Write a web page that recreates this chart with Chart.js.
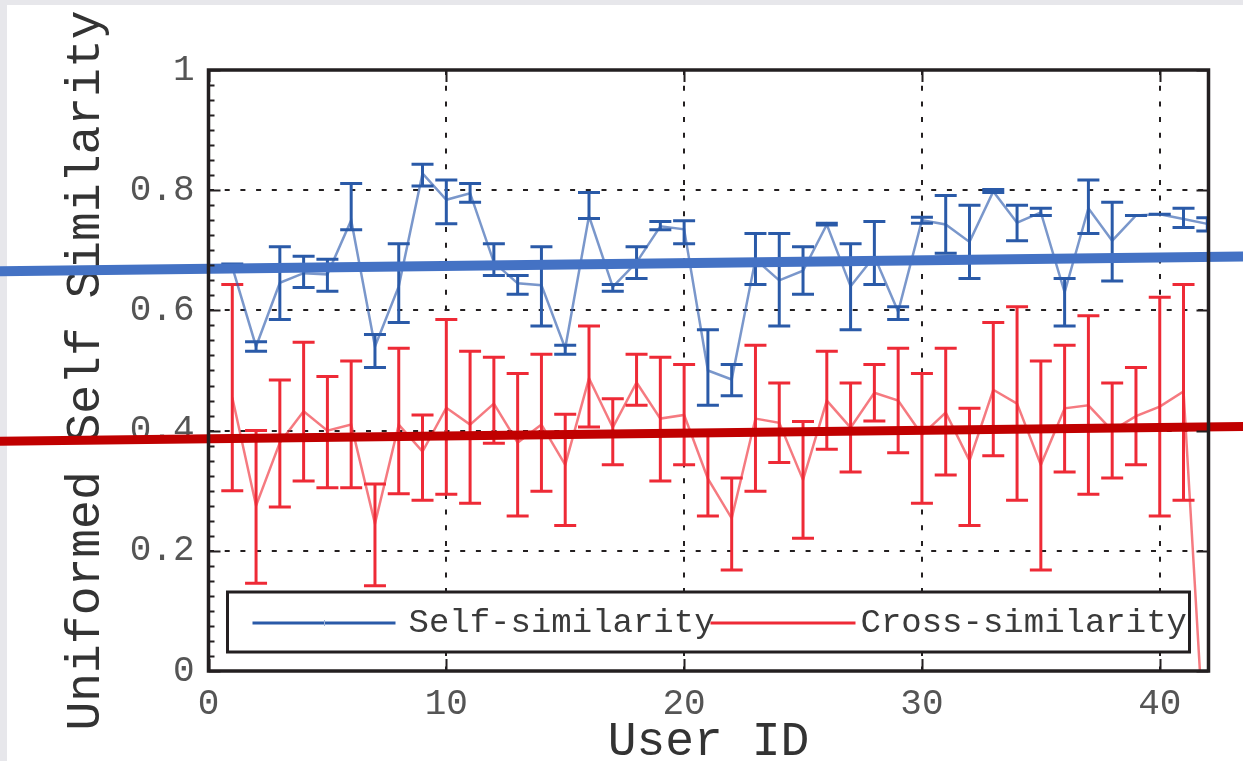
<!DOCTYPE html>
<html>
<head>
<meta charset="utf-8">
<script src="https://cdn.jsdelivr.net/npm/chart.js@4.4.0/dist/chart.umd.min.js"></script>
<style>
  html, body { margin: 0; padding: 0; background: #fff; }
  #wrap { width: 1243px; height: 761px; }
</style>
</head>
<body>
<div id="wrap"><canvas id="chart" width="1243" height="761"></canvas></div>
<script>
const userIds = [1, 2, 3, 4, 5, 6, 7, 8, 9, 10, 11, 12, 13, 14, 15, 16, 17, 18, 19, 20, 21,
  22, 23, 24, 25, 26, 27, 28, 29, 30, 31, 32, 33, 34, 35, 36, 37, 38, 39, 40, 41, 42];

const selfSim = [0.672, 0.54, 0.646, 0.662, 0.66, 0.75, 0.54, 0.64, 0.828, 0.784, 0.795,
  0.68, 0.645, 0.642, 0.537, 0.757, 0.639, 0.68, 0.74, 0.735, 0.50, 0.485, 0.685, 0.65,
  0.666, 0.743, 0.64, 0.69, 0.598, 0.75, 0.743, 0.714, 0.798, 0.746, 0.763, 0.63, 0.77,
  0.716, 0.758, 0.76, 0.752, 0.744];
const selfLo = [0.665, 0.532, 0.585, 0.638, 0.632, 0.734, 0.505, 0.58, 0.807, 0.744, 0.78,
  0.658, 0.627, 0.574, 0.527, 0.753, 0.632, 0.653, 0.734, 0.711, 0.442, 0.458, 0.643, 0.574,
  0.627, 0.742, 0.568, 0.643, 0.585, 0.745, 0.695, 0.653, 0.796, 0.716, 0.758, 0.574, 0.728,
  0.649, 0.758, 0.76, 0.738, 0.732];
const selfHi = [0.677, 0.548, 0.706, 0.69, 0.685, 0.811, 0.56, 0.711, 0.843, 0.817, 0.811,
  0.711, 0.658, 0.706, 0.542, 0.796, 0.643, 0.706, 0.748, 0.749, 0.568, 0.51, 0.728, 0.728,
  0.706, 0.745, 0.711, 0.748, 0.606, 0.755, 0.791, 0.775, 0.801, 0.775, 0.77, 0.653, 0.817,
  0.78, 0.758, 0.76, 0.77, 0.754];

const crossSim = [0.455, 0.275, 0.38, 0.432, 0.40, 0.41, 0.245, 0.41, 0.365, 0.438, 0.41,
  0.445, 0.38, 0.41, 0.343, 0.487, 0.405, 0.48, 0.42, 0.426, 0.32, 0.254, 0.42, 0.413,
  0.318, 0.45, 0.405, 0.463, 0.45, 0.393, 0.43, 0.35, 0.468, 0.445, 0.343, 0.437, 0.442,
  0.40, 0.424, 0.44, 0.465, -0.21];
const crossLo = [0.30, 0.146, 0.273, 0.316, 0.305, 0.305, 0.142, 0.295, 0.284, 0.294, 0.279,
  0.379, 0.258, 0.299, 0.242, 0.406, 0.343, 0.442, 0.316, 0.343, 0.258, 0.168, 0.299, 0.347,
  0.221, 0.369, 0.331, 0.416, 0.363, 0.279, 0.326, 0.242, 0.358, 0.284, 0.168, 0.331, 0.294,
  0.321, 0.343, 0.258, 0.284, null];
const crossHi = [0.643, 0.40, 0.484, 0.547, 0.49, 0.516, 0.311, 0.537, 0.426, 0.585, 0.532,
  0.522, 0.495, 0.527, 0.427, 0.574, 0.453, 0.527, 0.522, 0.51, 0.40, 0.321, 0.542, 0.479,
  0.415, 0.532, 0.479, 0.51, 0.537, 0.495, 0.537, 0.437, 0.58, 0.606, 0.516, 0.542, 0.591,
  0.479, 0.505, 0.622, 0.643, null];

// trend lines, read at both ends of the picture
const trendX = [-9, 44];
const selfTrend = [0.665, 0.690];
const crossTrend = [0.382, 0.407];

const xTicks = [0, 10, 20, 30, 40];
const yTicks = [0, 0.2, 0.4, 0.6, 0.8, 1];

const FONT = "'Liberation Mono', 'DejaVu Sans Mono', monospace";
const BLUE = "#2a5aa8";
const RED = "#ee2a36";

const pts = (xs, ys) => xs.map((x, i) => ({ x: x, y: ys[i] }));

const background = {
  id: "background",
  beforeDraw(chart) {
    const ctx = chart.ctx;
    ctx.save();
    ctx.fillStyle = "#fff";
    ctx.fillRect(0, 0, chart.width, chart.height);
    ctx.fillStyle = "#e7e7eb";
    ctx.fillRect(0, 0, chart.width, 5);
    ctx.fillRect(0, 0, 7, chart.height);
    ctx.restore();
  },
};

const errorBars = {
  id: "errorBars",
  afterDatasetDraw(chart, args) {
    const ds = chart.data.datasets[args.index];
    if (!ds.errLo) return;
    const { ctx, chartArea: ca } = chart;
    const x = chart.scales.x, y = chart.scales.y;
    ctx.save();
    ctx.beginPath();
    ctx.rect(ca.left, ca.top, ca.right - ca.left, ca.bottom - ca.top);
    ctx.clip();
    ctx.strokeStyle = ds.errColor;
    ctx.lineWidth = 3;
    ds.data.forEach((p, i) => {
      const lo = ds.errLo[i], hi = ds.errHi[i];
      if (lo == null) return;
      const px = x.getPixelForValue(p.x);
      const y1 = y.getPixelForValue(lo), y2 = y.getPixelForValue(hi);
      ctx.beginPath();
      ctx.moveTo(px, y1); ctx.lineTo(px, y2);
      ctx.moveTo(px - 11, y1); ctx.lineTo(px + 11, y1);
      ctx.moveTo(px - 11, y2); ctx.lineTo(px + 11, y2);
      ctx.stroke();
    });
    ctx.restore();
  },
};

// frame with inward ticks, and the legend box
const frame = {
  id: "frame",
  afterDatasetsDraw(chart) {
    const { ctx, chartArea: ca } = chart;
    const x = chart.scales.x, y = chart.scales.y;
    ctx.save();
    ctx.strokeStyle = "#231f20";
    ctx.lineWidth = 2;
    ctx.beginPath();
    for (let v = 0; v <= 1.0001; v += 0.025) {
      const py = Math.round(y.getPixelForValue(v)) + 0.5;
      ctx.moveTo(ca.left, py); ctx.lineTo(ca.left + 6, py);
    }
    yTicks.forEach((v) => {
      const py = Math.round(y.getPixelForValue(v)) + 0.5;
      ctx.moveTo(ca.left, py); ctx.lineTo(ca.left + 12, py);
      ctx.moveTo(ca.right, py); ctx.lineTo(ca.right - 12, py);
    });
    xTicks.forEach((v) => {
      const px = Math.round(x.getPixelForValue(v)) + 0.5;
      ctx.moveTo(px, ca.bottom); ctx.lineTo(px, ca.bottom - 12);
      ctx.moveTo(px, ca.top); ctx.lineTo(px, ca.top + 12);
    });
    ctx.stroke();
    ctx.lineWidth = 3.5;
    ctx.strokeRect(ca.left, ca.top, ca.right - ca.left, ca.bottom - ca.top);

    // legend
    const lx = ca.left + 19, ly = ca.bottom - 79, lw = 962, lh = 60;
    ctx.fillStyle = "#fff";
    ctx.fillRect(lx, ly, lw, lh);
    ctx.lineWidth = 3;
    ctx.strokeRect(lx, ly, lw, lh);
    const my = ly + 31;
    ctx.lineWidth = 3;
    ctx.strokeStyle = BLUE;
    ctx.beginPath();
    ctx.moveTo(lx + 25, my); ctx.lineTo(lx + 168, my);
    ctx.stroke();
    ctx.lineWidth = 1;
    ctx.strokeStyle = "#9fb4d8";
    ctx.beginPath();
    ctx.moveTo(lx + 97, my - 3); ctx.lineTo(lx + 97, my + 3);
    ctx.stroke();
    ctx.lineWidth = 3;
    ctx.strokeStyle = RED;
    ctx.beginPath();
    ctx.moveTo(lx + 483, my); ctx.lineTo(lx + 628, my);
    ctx.stroke();
    ctx.fillStyle = "#3a3a3a";
    ctx.font = "34px " + FONT;
    ctx.textBaseline = "middle";
    ctx.textAlign = "left";
    ctx.fillText("Self-similarity", lx + 181, my);
    ctx.fillText("Cross-similarity", lx + 633, my);
    ctx.restore();
  },
};

new Chart(document.getElementById("chart"), {
  type: "line",
  data: {
    datasets: [
      {
        label: "Self-similarity trend",
        data: pts(trendX, selfTrend),
        borderColor: "#4472c4",
        borderWidth: 10,
        pointRadius: 0,
        clip: false,
        order: 1,
      },
      {
        label: "Cross-similarity trend",
        data: pts(trendX, crossTrend),
        borderColor: "#c00000",
        borderWidth: 9,
        pointRadius: 0,
        clip: false,
        order: 1,
      },
      {
        label: "Self-similarity",
        data: pts(userIds, selfSim),
        borderColor: "rgba(50,95,175,0.65)",
        borderWidth: 2.5,
        pointRadius: 0,
        errLo: selfLo,
        errHi: selfHi,
        errColor: BLUE,
        order: 2,
      },
      {
        label: "Cross-similarity",
        data: pts(userIds, crossSim),
        borderColor: "rgba(240,50,60,0.65)",
        borderWidth: 2.5,
        pointRadius: 0,
        errLo: crossLo,
        errHi: crossHi,
        errColor: RED,
        order: 3,
      },
    ],
  },
  options: {
    responsive: false,
    animation: false,
    devicePixelRatio: 1,
    layout: { padding: { top: 70, right: 34.5, left: 0, bottom: 0 } },
    plugins: { legend: { display: false }, tooltip: { enabled: false } },
    elements: { line: { tension: 0 } },
    scales: {
      x: {
        type: "linear",
        min: 0,
        max: 42.05,
        afterFit: (s) => { s.height = 90; },
        afterBuildTicks: (s) => { s.ticks = xTicks.map((v) => ({ value: v })); },
        ticks: { color: "#555", font: { family: FONT, size: 36 }, padding: 12, maxRotation: 0 },
        grid: { color: "#231f20", lineWidth: 2, drawTicks: false },
        border: { display: false, dash: [5, 10.7] },
        title: {
          display: true,
          text: "User ID",
          color: "#333",
          font: { family: FONT, size: 48, lineHeight: 1 },
          padding: { top: 0, bottom: -5 },
        },
      },
      y: {
        min: 0,
        max: 1,
        afterFit: (s) => { s.width = 208.5; },
        afterBuildTicks: (s) => { s.ticks = yTicks.map((v) => ({ value: v })); },
        ticks: {
          color: "#555",
          font: { family: FONT, size: 36 },
          padding: 14,
          callback: (v) => String(Math.round(v * 10) / 10),
        },
        grid: { color: "#231f20", lineWidth: 2, drawTicks: false },
        border: { display: false, dash: [5, 10.7] },
        title: {
          display: true,
          text: "Uniformed Self Similarity",
          color: "#333",
          font: { family: FONT, size: 48, lineHeight: 1.2 },
          padding: { top: 57, bottom: 0 },
        },
      },
    },
  },
  plugins: [background, errorBars, frame],
});
</script>
</body>
</html>
